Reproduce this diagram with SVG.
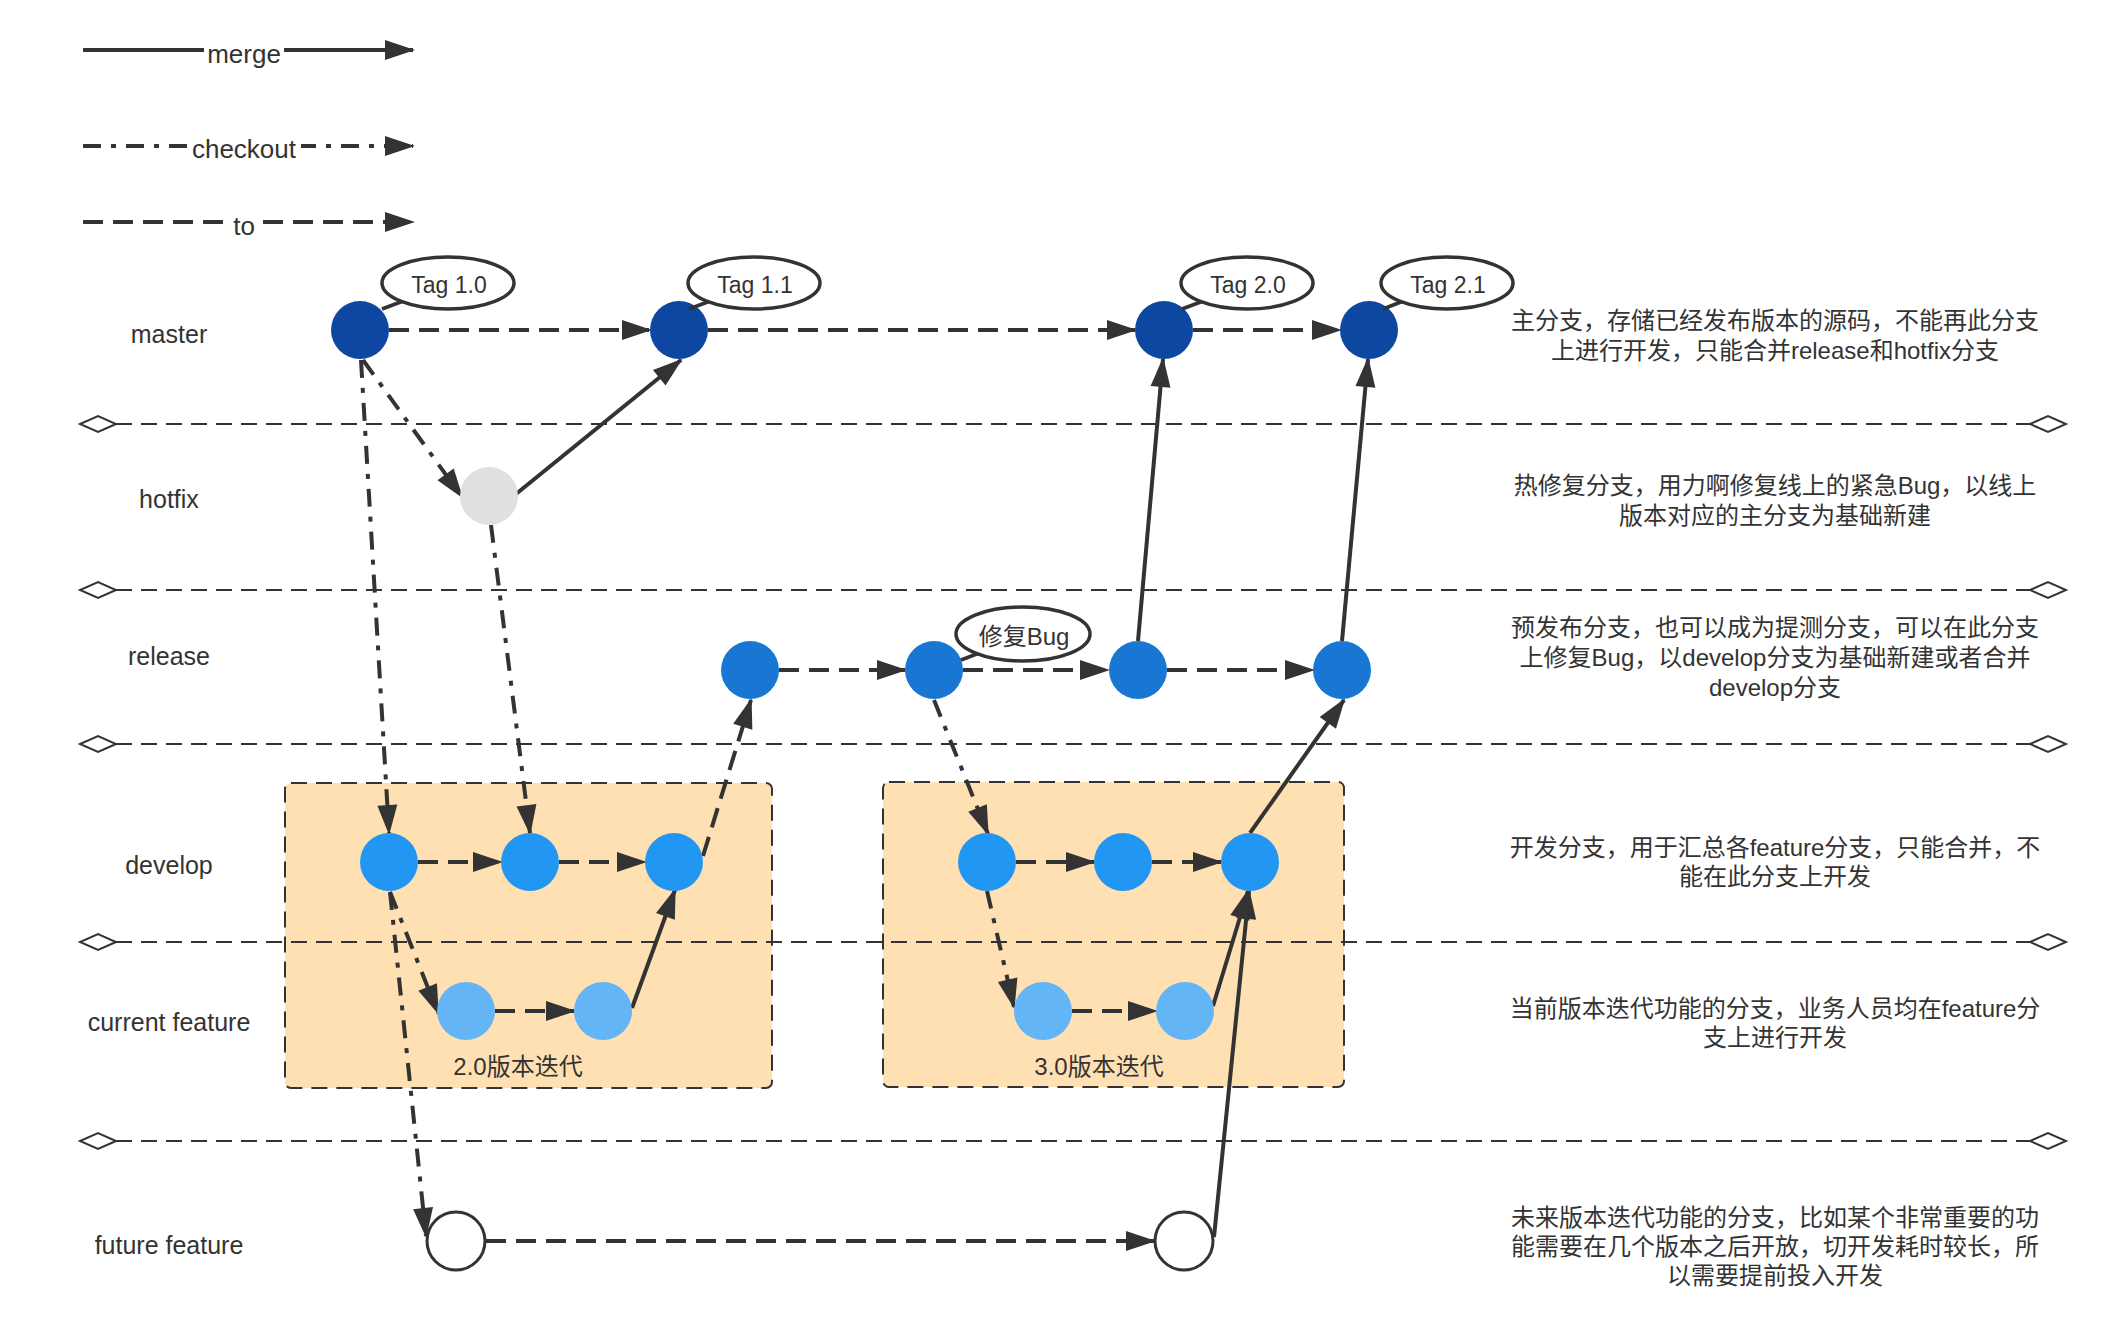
<svg xmlns="http://www.w3.org/2000/svg" width="2122" height="1338" viewBox="0 0 2122 1338">
<style>
text{font-family:"Liberation Sans","Noto Sans CJK SC",sans-serif;fill:#333;}
.lbl{font-size:25px;text-anchor:middle;dominant-baseline:central;}
.desc{font-size:24px;text-anchor:middle;dominant-baseline:central;}
.tag{font-size:23px;text-anchor:middle;dominant-baseline:central;}
.leg{font-size:26px;text-anchor:middle;}
.sep{stroke:#333;stroke-width:2;stroke-dasharray:16 9;fill:none;marker-start:url(#dia);marker-end:url(#dia);}
.box{fill:#FFE0B2;stroke:#333;stroke-width:2;stroke-dasharray:16 9;}
.mg{stroke:#333;stroke-width:4;fill:none;marker-end:url(#arr);}
.to{stroke:#333;stroke-width:4;fill:none;stroke-dasharray:20 10;marker-end:url(#arr);}
.co{stroke:#333;stroke-width:4;fill:none;stroke-dasharray:18 10 5 10;marker-end:url(#arr);}
.tagsh{fill:#fff;stroke:#333;stroke-width:3.5;}
.tail{stroke:#333;stroke-width:3.5;fill:none;}
.m{fill:#0D47A1;}
.h{fill:#E0E0E0;}
.r{fill:#1976D2;}
.d{fill:#2196F3;}
.c{fill:#64B5F6;}
.f{fill:#fff;stroke:#333;stroke-width:3;}
</style>
<defs>
<marker id="arr" markerUnits="userSpaceOnUse" markerWidth="30" markerHeight="20" refX="28" refY="10" orient="auto" overflow="visible">
<path d="M0,0 L30,10 L0,20 z" fill="#333"/>
</marker>
<marker id="dia" markerUnits="userSpaceOnUse" markerWidth="38" markerHeight="18" refX="0" refY="8" orient="auto-start-reverse" overflow="visible">
<path d="M0,8 L18,0 L36,8 L18,16 z" fill="#fff" stroke="#333" stroke-width="2"/>
</marker>
</defs>
<rect width="2122" height="1338" fill="#fff"/>

<g id="legend">
<line class="mg" x1="83" y1="50" x2="413" y2="50"/>
<rect x="204" y="36" width="80" height="34" fill="#fff"/>
<text class="leg" x="244" y="63">merge</text>
<line class="co" x1="83" y1="146" x2="413" y2="146"/>
<rect x="187" y="132" width="114" height="34" fill="#fff"/>
<text class="leg" x="244" y="158">checkout</text>
<line class="to" x1="83" y1="222" x2="413" y2="222"/>
<rect x="229" y="208" width="30" height="34" fill="#fff"/>
<text class="leg" x="244" y="235">to</text>
</g>

<g id="iteration-boxes">
<g id="box-2-0"><rect class="box" x="285" y="783" width="487" height="305" rx="6"/><text class="desc" x="518" y="1066">2.0版本迭代</text></g>
<g id="box-3-0"><rect class="box" x="883" y="782" width="461" height="305" rx="6"/><text class="desc" x="1099" y="1066">3.0版本迭代</text></g>
</g>

<g id="separators">
<line class="sep" x1="116" y1="424" x2="2030" y2="424"/>
<line class="sep" x1="116" y1="590" x2="2030" y2="590"/>
<line class="sep" x1="116" y1="744" x2="2030" y2="744"/>
<line class="sep" x1="116" y1="942" x2="2030" y2="942"/>
<line class="sep" x1="116" y1="1141" x2="2030" y2="1141"/>
</g>

<g id="branch-labels">
<text class="lbl" x="169" y="334">master</text>
<text class="lbl" x="169" y="499">hotfix</text>
<text class="lbl" x="169" y="656">release</text>
<text class="lbl" x="169" y="865">develop</text>
<text class="lbl" x="169" y="1022">current feature</text>
<text class="lbl" x="169" y="1245">future feature</text>
</g>

<g id="descriptions">
<text class="desc" x="1775" y="320">主分支，存储已经发布版本的源码，不能再此分支</text>
<text class="desc" x="1775" y="350">上进行开发，只能合并release和hotfix分支</text>
<text class="desc" x="1775" y="485">热修复分支，用力啊修复线上的紧急Bug，以线上</text>
<text class="desc" x="1775" y="515">版本对应的主分支为基础新建</text>
<text class="desc" x="1775" y="627">预发布分支，也可以成为提测分支，可以在此分支</text>
<text class="desc" x="1775" y="657">上修复Bug，以develop分支为基础新建或者合并</text>
<text class="desc" x="1775" y="687">develop分支</text>
<text class="desc" x="1775" y="847">开发分支，用于汇总各feature分支，只能合并，不</text>
<text class="desc" x="1775" y="876">能在此分支上开发</text>
<text class="desc" x="1775" y="1008">当前版本迭代功能的分支，业务人员均在feature分</text>
<text class="desc" x="1775" y="1037">支上进行开发</text>
<text class="desc" x="1775" y="1217">未来版本迭代功能的分支，比如某个非常重要的功</text>
<text class="desc" x="1775" y="1246">能需要在几个版本之后开放，切开发耗时较长，所</text>
<text class="desc" x="1775" y="1275">以需要提前投入开发</text>
</g>

<g id="connectors">
<path class="to" d="M389,330 L650,330"/>
<path class="to" d="M708,330 L1135,330"/>
<path class="to" d="M1193,330 L1340,330"/>
<path class="co" d="M363,360 L462,497"/>
<path class="co" d="M361,360 L389,833"/>
<path class="mg" d="M516,494 L681,360"/>
<path class="co" d="M491,525 L530,833"/>
<path class="to" d="M418,862 L501,862"/>
<path class="to" d="M559,862 L645,862"/>
<path class="to" d="M703,856 L751,700"/>
<path class="co" d="M390,892 L438,1013"/>
<path class="co" d="M390,892 L426,1236"/>
<path class="to" d="M495,1011 L574,1011"/>
<path class="mg" d="M632,1008 L675,890"/>
<path class="to" d="M779,670 L905,670"/>
<path class="to" d="M963,670 L1108,670"/>
<path class="to" d="M1167,670 L1313,670"/>
<path class="co" d="M934,700 L988,834"/>
<path class="mg" d="M1138,641 L1163,359"/>
<path class="mg" d="M1342,641 L1368,359"/>
<path class="to" d="M1016,862 L1094,862"/>
<path class="to" d="M1152,862 L1221,862"/>
<path class="mg" d="M1250,833 L1344,700"/>
<path class="co" d="M987,891 L1014,1007"/>
<path class="to" d="M1072,1011 L1156,1011"/>
<path class="mg" d="M1213,1006 L1248,891"/>
<path class="to" d="M486,1241 L1154,1241"/>
<path class="mg" d="M1214,1237 L1249,891"/>
</g>

<g id="nodes">
<g id="master-1"><circle class="m" cx="360" cy="330" r="29"/></g>
<g id="master-2"><circle class="m" cx="679" cy="330" r="29"/></g>
<g id="master-3"><circle class="m" cx="1164" cy="330" r="29"/></g>
<g id="master-4"><circle class="m" cx="1369" cy="330" r="29"/></g>
<g id="hotfix-1"><circle class="h" cx="489" cy="496" r="29"/></g>
<g id="release-1"><circle class="r" cx="750" cy="670" r="29"/></g>
<g id="release-2"><circle class="r" cx="934" cy="670" r="29"/></g>
<g id="release-3"><circle class="r" cx="1138" cy="670" r="29"/></g>
<g id="release-4"><circle class="r" cx="1342" cy="670" r="29"/></g>
<g id="develop-1"><circle class="d" cx="389" cy="862" r="29"/></g>
<g id="develop-2"><circle class="d" cx="530" cy="862" r="29"/></g>
<g id="develop-3"><circle class="d" cx="674" cy="862" r="29"/></g>
<g id="develop-4"><circle class="d" cx="987" cy="862" r="29"/></g>
<g id="develop-5"><circle class="d" cx="1123" cy="862" r="29"/></g>
<g id="develop-6"><circle class="d" cx="1250" cy="862" r="29"/></g>
<g id="current-1"><circle class="c" cx="466" cy="1011" r="29"/></g>
<g id="current-2"><circle class="c" cx="603" cy="1011" r="29"/></g>
<g id="current-3"><circle class="c" cx="1043" cy="1011" r="29"/></g>
<g id="current-4"><circle class="c" cx="1185" cy="1011" r="29"/></g>
<g id="future-1"><circle class="f" cx="456" cy="1241" r="29"/></g>
<g id="future-2"><circle class="f" cx="1184" cy="1241" r="29"/></g>
</g>

<g id="tags">
<g id="tag-1-0"><line class="tail" x1="382" y1="309" x2="406" y2="300"/><ellipse class="tagsh" cx="448" cy="283" rx="66" ry="26"/><text class="tag" x="449" y="285">Tag 1.0</text></g>
<g id="tag-1-1"><line class="tail" x1="689" y1="309" x2="713" y2="300"/><ellipse class="tagsh" cx="754" cy="283" rx="66" ry="26"/><text class="tag" x="755" y="285">Tag 1.1</text></g>
<g id="tag-2-0"><line class="tail" x1="1182" y1="309" x2="1206" y2="300"/><ellipse class="tagsh" cx="1247" cy="283" rx="66" ry="26"/><text class="tag" x="1248" y="285">Tag 2.0</text></g>
<g id="tag-2-1"><line class="tail" x1="1383" y1="309" x2="1406" y2="300"/><ellipse class="tagsh" cx="1447" cy="283" rx="66" ry="26"/><text class="tag" x="1448" y="285">Tag 2.1</text></g>
<g id="tag-bugfix"><line class="tail" x1="961" y1="660" x2="982" y2="652"/><ellipse class="tagsh" cx="1023" cy="634" rx="67" ry="27"/><text class="desc" x="1024" y="636">修复Bug</text></g>
</g>
</svg>
